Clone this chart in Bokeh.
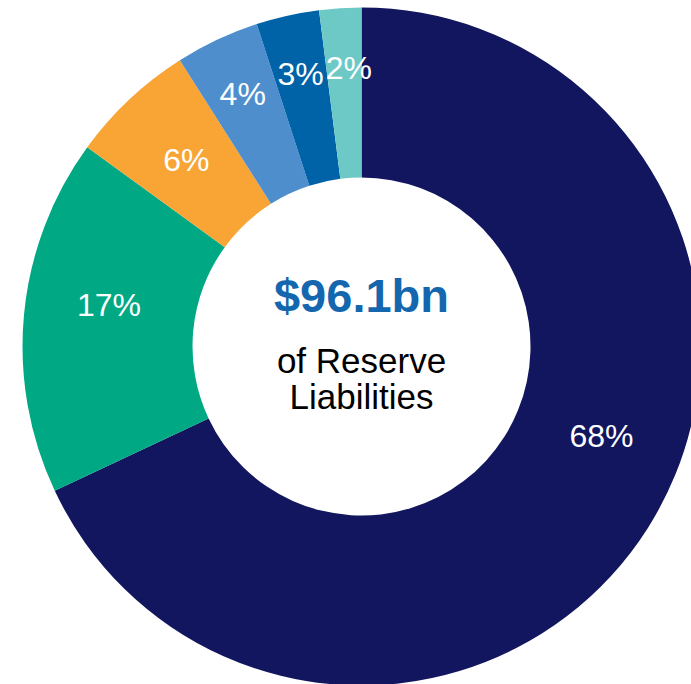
import math
from bokeh.plotting import figure
from bokeh.models import ColumnDataSource, Range1d
from bokeh.core.properties import value
from bokeh.embed import file_html
from bokeh.resources import INLINE

# Data
categories = ["A", "B", "C", "D", "E", "F"]
shares = [68, 17, 6, 4, 3, 2]
labels = ["68%", "17%", "6%", "4%", "3%", "2%"]
colors = ["#12165E", "#00A884", "#F8A535", "#4F8ECC", "#0062A7", "#6CC9C5"]
total_text = "$96.1bn"
sub_lines = ["of Reserve", "Liabilities"]

W, H = 691, 684
p = figure(width=W, height=H, output_backend="svg", toolbar_location=None,
           x_range=Range1d(0, W), y_range=Range1d(684 - H, 684),
           min_border=0, match_aspect=False)
p.axis.visible = False
p.grid.visible = False
p.outline_line_color = None
p.background_fill_color = "white"

cx, cy = 361, 338
r_out, r_in = 339, 169

# label layout: narrow slices pushed outward, large slice label rotated a bit
label_nudge_deg = [12, -4, 0, 0, 0, -1]

tot = sum(shares)
starts, ends, lx, ly = [], [], [], []
cum = 0.0
for s, nd in zip(shares, label_nudge_deg):
    a0 = math.pi / 2 - 2 * math.pi * cum / tot
    cum += s
    a1 = math.pi / 2 - 2 * math.pi * cum / tot
    starts.append(a0)
    ends.append(a1)
    mid = (a0 + a1) / 2 + math.radians(nd)
    lab_r = 279 if s <= 4 else 256
    lx.append(cx + lab_r * math.cos(mid))
    ly.append(cy + lab_r * math.sin(mid))

src = ColumnDataSource(dict(cat=categories, start=starts, end=ends, color=colors,
                            lx=lx, ly=ly, label=labels))
p.annular_wedge(x=cx, y=cy, inner_radius=r_in, outer_radius=r_out,
                start_angle="start", end_angle="end", direction="clock",
                fill_color="color", line_color=None, source=src)

p.text(x="lx", y="ly", text="label", source=src, text_color="white",
       text_font=value("Liberation Sans"), text_font_size="32px",
       text_align="center", text_baseline="middle")

p.text(x=[cx], y=[cy + 51], text=[total_text], text_color="#1467AE",
       text_font=value("Liberation Sans"), text_font_size="47px",
       text_font_style="bold", text_align="center", text_baseline="middle")
p.text(x=[cx, cx], y=[cy - 14, cy - 50], text=sub_lines, text_color="black",
       text_font=value("Liberation Sans"), text_font_size="35px",
       text_align="center", text_baseline="middle")

open("out.html", "w").write(file_html(p, INLINE))
